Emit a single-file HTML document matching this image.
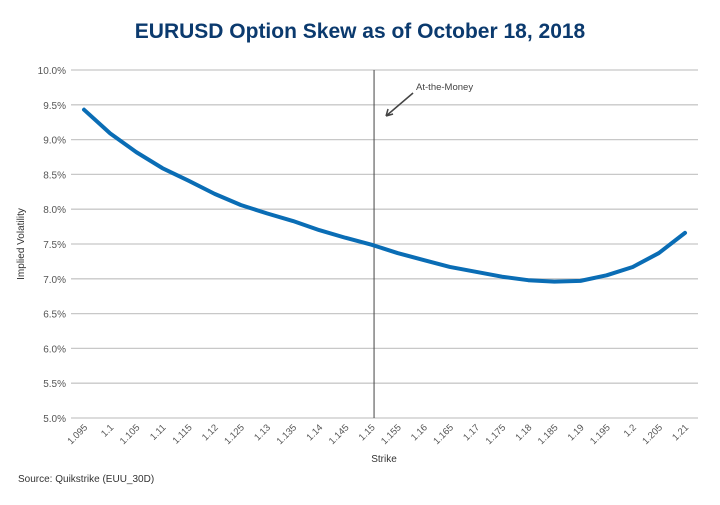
<!DOCTYPE html>
<html><head><meta charset="utf-8"><style>
body{margin:0;background:#fff;font-family:"Liberation Sans",sans-serif}
svg text{font-family:"Liberation Sans",sans-serif}
</style></head><body>
<svg width="720" height="500">
<text x="360" y="38" text-anchor="middle" font-size="21" font-weight="bold" fill="#0b3a6e">EURUSD Option Skew as of October 18, 2018</text>
<g id="grid"></g><g id="yt"></g><g id="xt"></g>
<text transform="translate(24,244) rotate(-90)" text-anchor="middle" font-size="10" fill="#333">Implied Volatility</text>
<text x="384" y="462" text-anchor="middle" font-size="10" fill="#333">Strike</text>
<text x="18" y="482" font-size="10" fill="#333">Source: Quikstrike (EUU_30D)</text>
<g id="atm"></g>
<path id="line" fill="none" stroke="#0a6db5" stroke-width="4" stroke-linejoin="round" stroke-linecap="round"/>
</svg>
<script>
const strikes=["1.095","1.1","1.105","1.11","1.115","1.12","1.125","1.13","1.135","1.14","1.145","1.15","1.155","1.16","1.165","1.17","1.175","1.18","1.185","1.19","1.195","1.2","1.205","1.21"];
const vols=[9.43,9.09,8.82,8.59,8.41,8.22,8.06,7.94,7.83,7.70,7.59,7.49,7.37,7.27,7.17,7.10,7.03,6.98,6.96,6.97,7.05,7.17,7.37,7.66];
const yTicks=[5,5.5,6,6.5,7,7.5,8,8.5,9,9.5,10];
const atmIndex=11.1;
const ns="http://www.w3.org/2000/svg";
const X0=84,X1=685,Y0=418,Y1=70;
const xs=i=>X0+i*(X1-X0)/(strikes.length-1);
const ys=v=>Y0-(v-5)/(10-5)*(Y0-Y1);
function mk(t,a,p){const e=document.createElementNS(ns,t);for(const k in a)e.setAttribute(k,a[k]);p.appendChild(e);return e;}
const g=document.getElementById('grid'),yt=document.getElementById('yt'),xt=document.getElementById('xt');
yTicks.forEach(v=>{
 const l=mk('line',{x1:71,x2:698,y1:ys(v),y2:ys(v),stroke:'#c8c8c8','stroke-width':1.3},g);
 
 
 const t=mk('text',{x:66,y:ys(v)+4,'text-anchor':'end','font-size':10,fill:'#555'},yt);
 t.textContent=v.toFixed(1)+'%';
 
 
});
strikes.forEach((s,i)=>{
 const x=xs(i);
 const t=mk('text',{transform:`translate(${x+4},${428}) rotate(-45)`,'text-anchor':'end','font-size':9.5,fill:'#555'},xt);
 t.textContent=s;
 
 
});
const atm=document.getElementById('atm');
const ax=xs(atmIndex);
const vl=mk('line',{x1:ax,x2:ax,y1:70,y2:418,stroke:'#444','stroke-width':1},atm);


const ar=mk('path',{d:`M${ax+39},${93} L${ax+12},${116} M${ax+12},${116} l2,-7 M${ax+12},${116} l7,-2`,stroke:'#444','stroke-width':1.5,fill:'none'},atm);


const at=mk('text',{x:ax+42,y:90,'font-size':9.5,fill:'#444'},atm);
at.textContent='At-the-Money';


document.getElementById('line').setAttribute('d',vols.map((v,i)=>(i?'L':'M')+xs(i)+','+ys(v)).join(' '));
</script>
</body></html>
